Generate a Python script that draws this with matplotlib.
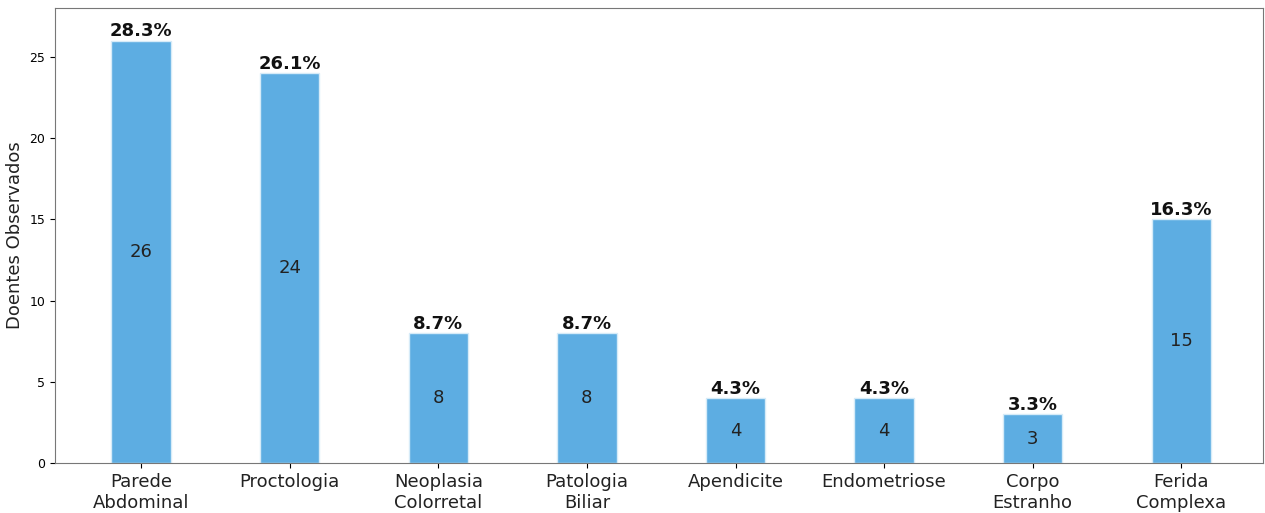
import matplotlib
matplotlib.use('Agg')
import matplotlib.pyplot as plt

categorias = ['Parede\nAbdominal', 'Proctologia', 'Neoplasia\nColorretal', 'Patologia\nBiliar',
              'Apendicite', 'Endometriose', 'Corpo\nEstranho', 'Ferida\nComplexa']
doentes = [26, 24, 8, 8, 4, 4, 3, 15]
percentagens = ['28.3%', '26.1%', '8.7%', '8.7%', '4.3%', '4.3%', '3.3%', '16.3%']

fig = plt.figure(figsize=(12.65, 5.13), dpi=100)
ax = fig.add_axes([55 / 1265, 50 / 513, 1208 / 1265, 455 / 513])

x = range(len(categorias))
bars = ax.bar(x, doentes, width=0.4, color='#5DADE2', edgecolor='#d6ebf8', linewidth=1)

for b, n, p in zip(bars, doentes, percentagens):
    cx = b.get_x() + b.get_width() / 2
    ax.text(cx, n / 2, str(n), ha='center', va='center', fontsize=13, color='#222222')
    ax.text(cx, n, p, ha='center', va='bottom', fontsize=13, fontweight='bold', color='#111111')

ax.set_xticks(list(x))
ax.set_xticklabels(categorias, fontsize=13, color='#222222')
ax.set_ylabel('Doentes Observados', fontsize=13, color='#222222')
ax.tick_params(axis='y', labelsize=9)
ax.set_xlim(-0.58, 7.55)
ax.set_ylim(0, 28)
for s in ax.spines.values():
    s.set_color('#777777')

fig.savefig('out.png')
